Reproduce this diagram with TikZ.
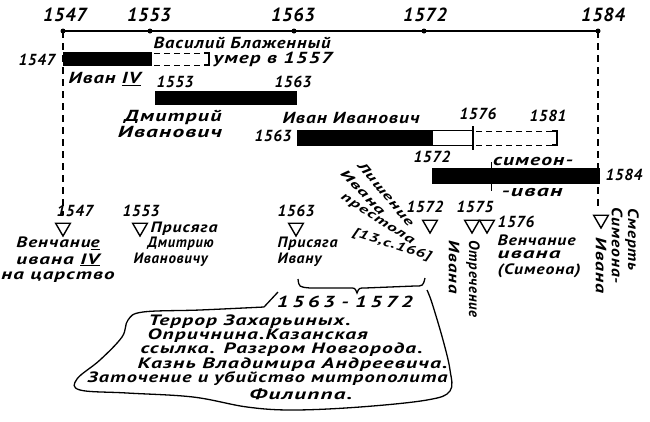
\documentclass[tikz,border=0pt]{standalone}
\usepackage{fontspec}
\usepackage{graphicx}
\newfontfamily\hand{PT Sans}[LetterSpace=5]
\newfontfamily\handn{PT Sans}[LetterSpace=4]
\newcommand\fitw[2]{\resizebox{#1pt}{\height}{#2}}
\usetikzlibrary{shapes.geometric}
\tikzset{
  txt/.style={font=\hand\bfseries\itshape\fontsize{16}{16}\selectfont, inner sep=0pt},
  etxt/.style={font=\hand\bfseries\itshape\fontsize{15}{16}\selectfont, inner sep=0pt},
  fan/.style={font=\hand\bfseries\itshape\fontsize{12.5}{14}\selectfont, inner sep=0pt},
  ctxt/.style={font=\hand\bfseries\itshape\fontsize{15}{16}\selectfont, inner sep=0pt},
  yr/.style={font=\handn\bfseries\itshape\fontsize{16}{17}\selectfont, inner sep=0pt},
  axyr/.style={font=\handn\bfseries\itshape\fontsize{19}{19}\selectfont, inner sep=0pt},
  tri/.style={draw, regular polygon, regular polygon sides=3, shape border rotate=180, minimum size=17pt, inner sep=0pt, line width=1.4pt},
  dot/.style={circle, fill, inner sep=0pt, minimum size=5pt},
  vdash/.style={dash pattern=on 7pt off 5pt},
  hdash/.style={dash pattern=on 6pt off 4pt, line width=1pt}
}
\begin{document}
\begin{tikzpicture}[x=1pt,y=-1pt,line width=1.3pt]
\useasboundingbox (0,0) rectangle (650,421);
% axis
\node[dot] (d47) at (63,31) {};
\node[dot] (d53) at (150,31) {};
\node[dot] (d63) at (294,31) {};
\node[dot] (d72) at (424,31) {};
\node[dot] (d84) at (598,31) {};
\draw (d47.center) -- (d84.center);
\node[axyr] (y47) at (65,15) {1547};
\node[axyr] (y53) at (149,15) {1553};
\node[axyr] (y63) at (293,15) {1563};
\node[axyr] (y72) at (425,15) {1572};
\node[axyr] (y84) at (603,15) {1584};
\coordinate (e47) at (63,215);
\coordinate (e84) at (598,207);
\draw[vdash] (d47.center) -- (e47);
\draw[vdash] (d84.center) -- (e84);
% bar 1
\fill (63,52) rectangle (152,66);
\draw[hdash] (154,53) -- (207,53) (154,65) -- (207,65);
\draw (204,53) -- (209,53) -- (209,65) -- (204,65);
\node[txt, anchor=west] (vas) at (153,43) {\fitw{177}{Василий Блаженный}};
\node[txt, anchor=west] (umer) at (213,59) {\fitw{119}{умер в 1557}};
\node[yr, anchor=east] (b47) at (56,60) {1547};
\node[txt, anchor=west] (ivan4) at (68,79) {\fitw{72}{Иван \underline{IV}}};
% bar 2
\fill (155,91) rectangle (297,105);
\node[yr] (b53) at (175,82) {1553};
\node[yr] (b63a) at (293,82) {1563};
\node[txt] (dmi1) at (173,117) {\fitw{97}{Дмитрий}};
\node[txt] (dmi2) at (170,132) {\fitw{104}{Иванович}};
% bar 3
\fill (297,130) rectangle (432,146);
\draw (432,130.6) rectangle (473,145.4);
\draw[line width=2pt] (473,126) -- (473,150);
\draw[hdash] (476,131) -- (555,131) (476,145) -- (555,145);
\draw (552,131) -- (557,131) -- (557,145) -- (552,145);
\node[txt] (ii) at (351,118) {\fitw{137}{Иван Иванович}};
\node[yr] (b63) at (273,136) {1563};
\node[yr] (b76) at (478,114) {1576};
\node[yr] (b81) at (548,116) {1581};
% bar 4
\fill (432,168) rectangle (600,184);
\draw[line width=0.8pt] (491,162) -- (491,191);
\node[yr] (b72) at (432,157) {1572};
\node[txt] (sim) at (533,161) {\fitw{80}{симеон-}};
\node[txt] (siv) at (532,192) {\fitw{61}{-иван}};
\node[yr] (b84) at (624,175) {1584};
% bottom events
\node[yr] (c47) at (75,211) {1547};
\node[tri] (t47) at (63,227.5) {};
\node[etxt] (ev47a) at (58,243) {\fitw{83}{Венчани\underline{е}}};
\node[etxt] (ev47b) at (58,260) {\fitw{83}{ивана \underline{IV}}};
\node[etxt] (ev47c) at (58,277) {\fitw{113}{на царство}};
\node[yr] (c53) at (141,211) {1553};
\node[tri] (t53) at (140,227.5) {};
\node[etxt, anchor=west] (ev53a) at (150,229) {\fitw{67}{Присяга}};
\node[etxt, anchor=west] (ev53b) at (147,244) {\fitw{66}{Дмитрию}};
\node[etxt, anchor=west] (ev53c) at (133,260) {\fitw{74}{Ивановичу}};
\node[yr] (c63) at (296,211) {1563};
\node[tri] (t63) at (296,227.5) {};
\node[etxt, anchor=west] (ev63a) at (277,244) {\fitw{60}{Присяга}};
\node[etxt, anchor=west] (ev63b) at (277,260) {\fitw{44}{Ивану}};
\node[yr] (c72) at (425,207) {1572};
\node[tri] (t72) at (430,224.5) {};
\node[fan, rotate=-50] (l1) at (386,194) {\fitw{80}{Лишение}};
\node[fan, rotate=-46] (l2) at (363,192) {\fitw{58}{Ивана}};
\node[fan, rotate=-33] (l3) at (377,220) {\fitw{85}{престола}};
\node[fan, rotate=-18] (l4) at (392,245) {\fitw{82}{[13,с.166]}};
\node[yr] (c75) at (475,207) {1575};
\node[tri] (t75a) at (472,224.5) {};
\node[tri] (t75b) at (487,224.5) {};
\node[etxt, rotate=-90, anchor=west] (otr) at (473,240) {\fitw{77}{Отречение}};
\node[etxt, rotate=-90, anchor=west] (otr2) at (454,240) {\fitw{53}{Ивана}};
\node[yr, anchor=west] (c76) at (497,222) {1576};
\node[etxt, anchor=west] (ev76a) at (497,240) {\fitw{78}{Венчание}};
\node[etxt, anchor=west] (ev76b) at (497,255) {\fitw{63}{ивана}};
\node[etxt, anchor=west] (ev76c) at (497,271) {\fitw{83}{(Симеона)}};
\node[tri] (t84) at (601,219.5) {};
\node[etxt, rotate=-90, anchor=west] (sm1) at (632,208) {\fitw{62}{Смерть}};
\node[etxt, rotate=-90, anchor=west] (sm2) at (617,207) {\fitw{76}{Симеона-}};
\node[etxt, rotate=-90, anchor=west] (sm3) at (601,237) {\fitw{56}{Ивана}};
% brace
\draw (298,279) .. controls (299,287) .. (310,288) -- (350,288) .. controls (355,288) .. (357,293) .. controls (359,288) .. (365,288) -- (415,286) .. controls (423,286) .. (425,278);
% cloud
\draw (278,292) -- (264,307) plot[smooth, tension=0.6] coordinates {(264,307) (200,310) (143,312) (128,320) (122,337) (100,360) (77,379) (80,390) (127,393) (193,397) (247,407) (293,410) (360,407) (427,400) (450,391) (450,370) (443,340) (432,303) (427,290)};
\node[yr] (per) at (345,302) {\fitw{136}{1\,5\,6\,3 - 1\,5\,7\,2}};
\node[ctxt, anchor=west] (k1) at (148,322) {\fitw{202}{Террор Захарьиных.}};
\node[ctxt, anchor=west] (k2) at (147,336) {\fitw{220}{Опричнина.Казанская}};
\node[ctxt, anchor=west] (k3) at (140,350) {\fitw{282}{ссылка. Разгром Новгорода.}};
\node[ctxt, anchor=west] (k4) at (137,365) {\fitw{310}{Казнь Владимира Андреевича.}};
\node[ctxt, anchor=west] (k5) at (87,379) {\fitw{360}{Заточение и убийство митрополита}};
\node[ctxt] (k6) at (301,394) {\fitw{103}{Филиппа.}};
\end{tikzpicture}
\end{document}
